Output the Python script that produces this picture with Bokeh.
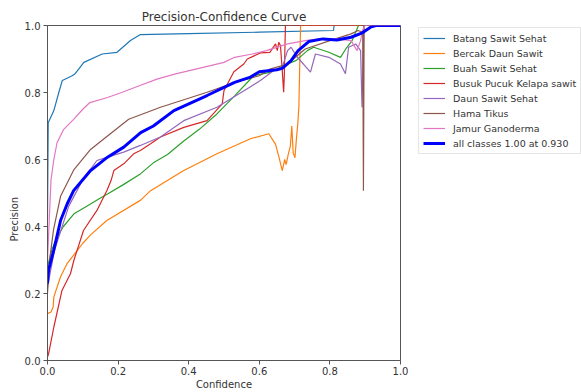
from bokeh.plotting import figure
from bokeh.layouts import row
from bokeh.models import Range1d, FixedTicker, PrintfTickFormatter, Legend, LegendItem, Title
from bokeh.embed import file_html
from bokeh.resources import INLINE

# ---- data ----
class_names = ["Batang Sawit Sehat", "Bercak Daun Sawit", "Buah Sawit Sehat",
               "Busuk Pucuk Kelapa sawit", "Daun Sawit Sehat", "Hama Tikus",
               "Jamur Ganoderma", "all classes 1.00 at 0.930"]

conf_batang = [0, 0.002, 0.018, 0.032, 0.042, 0.07, 0.079, 0.103, 0.155, 0.197, 0.235, 0.263, 0.4, 0.6, 0.81, 0.812, 1.0]
prec_batang = [0.42, 0.71, 0.746, 0.80, 0.836, 0.85, 0.857, 0.89, 0.915, 0.92, 0.955, 0.973, 0.976, 0.98, 0.985, 1.0, 1.0]

conf_bercak = [0, 0.01, 0.016, 0.018, 0.037, 0.056, 0.084, 0.1, 0.122, 0.168, 0.263, 0.292, 0.386, 0.48, 0.575,
               0.627, 0.646, 0.655, 0.665, 0.672, 0.676, 0.682, 0.688, 0.692, 0.696, 0.701, 0.705, 0.709, 0.712, 0.717, 1.0]
prec_bercak = [0.14, 0.145, 0.16, 0.19, 0.25, 0.29, 0.328, 0.35, 0.375, 0.418, 0.478, 0.507, 0.567, 0.617, 0.662,
               0.677, 0.645, 0.61, 0.567, 0.60, 0.585, 0.615, 0.64, 0.70, 0.62, 0.605, 0.66, 0.706, 0.756, 1.0, 1.0]

conf_buah = [0, 0.012, 0.027, 0.045, 0.075, 0.11, 0.15, 0.17, 0.215, 0.263, 0.3, 0.34, 0.386, 0.43, 0.48, 0.53,
             0.584, 0.63, 0.68, 0.705, 0.736, 0.754, 0.797, 0.83, 0.845, 0.863, 0.881, 1.0]
prec_buah = [0.28, 0.33, 0.368, 0.40, 0.438, 0.46, 0.485, 0.497, 0.525, 0.557, 0.59, 0.615, 0.655, 0.69, 0.736, 0.79,
             0.85, 0.86, 0.885, 0.896, 0.925, 0.935, 0.92, 0.905, 0.93, 0.955, 1.0, 1.0]

conf_busuk = [0, 0.003, 0.018, 0.041, 0.065, 0.075, 0.102, 0.14, 0.168, 0.18, 0.188, 0.216, 0.244, 0.263, 0.292,
              0.32, 0.386, 0.452, 0.495, 0.5, 0.528, 0.556, 0.566, 0.603, 0.63, 0.646, 0.651, 0.655, 0.66, 0.665,
              0.669, 0.671, 0.674, 1.0]
prec_busuk = [0.01, 0.02, 0.10, 0.209, 0.259, 0.30, 0.388, 0.448, 0.507, 0.537, 0.567, 0.587, 0.617, 0.627, 0.647,
              0.667, 0.696, 0.716, 0.766, 0.806, 0.862, 0.885, 0.90, 0.918, 0.92, 0.945, 0.925, 0.95, 0.94, 0.866,
              0.801, 0.856, 1.0, 1.0]

conf_daun = [0, 0.02, 0.06, 0.1, 0.14, 0.17, 0.216, 0.263, 0.32, 0.386, 0.48, 0.566, 0.603, 0.64, 0.665, 0.68,
             0.69, 0.707, 0.725, 0.745, 0.759, 0.797, 0.83, 0.844, 0.853, 0.873, 0.887, 0.891, 0.896, 1.0]
prec_daun = [0.22, 0.33, 0.46, 0.54, 0.597, 0.607, 0.622, 0.642, 0.667, 0.716, 0.756, 0.811, 0.836, 0.865, 0.875, 0.925,
             0.935, 0.906, 0.885, 0.861, 0.915, 0.905, 0.885, 0.856, 0.935, 0.945, 0.925, 0.756, 1.0, 1.0]

conf_hama = [0, 0.006, 0.017, 0.037, 0.075, 0.122, 0.17, 0.23, 0.32, 0.45, 0.53, 0.6, 0.63, 0.68, 0.73, 0.8,
             0.86, 0.88, 0.893, 0.895, 0.897, 1.0]
prec_hama = [0.20, 0.30, 0.39, 0.49, 0.57, 0.63, 0.67, 0.72, 0.756, 0.80, 0.83, 0.85, 0.87, 0.885, 0.93, 0.955,
             0.975, 0.985, 0.98, 0.507, 1.0, 1.0]

conf_jamur = [0, 0.005, 0.01, 0.018, 0.027, 0.046, 0.074, 0.1, 0.12, 0.17, 0.21, 0.26, 0.31, 0.36, 0.42, 0.5,
              0.53, 0.58, 0.62, 0.68, 0.73, 0.77, 0.82, 0.86, 0.877, 0.887, 0.892, 0.9, 1.0]
prec_jamur = [0.30, 0.42, 0.54, 0.60, 0.65, 0.69, 0.72, 0.75, 0.77, 0.785, 0.80, 0.82, 0.84, 0.855, 0.87, 0.89,
              0.905, 0.915, 0.925, 0.945, 0.955, 0.96, 0.96, 0.955, 0.925, 0.955, 0.985, 1.0, 1.0]

conf_all = [0, 0.003, 0.018, 0.037, 0.056, 0.074, 0.122, 0.17, 0.216, 0.264, 0.3, 0.358, 0.452, 0.53, 0.575,
            0.6, 0.65, 0.665, 0.69, 0.71, 0.74, 0.78, 0.82, 0.86, 0.89, 0.915, 0.93, 1.0]
prec_all = [0.23, 0.27, 0.33, 0.418, 0.468, 0.507, 0.567, 0.607, 0.637, 0.68, 0.70, 0.746, 0.791, 0.83, 0.846,
            0.862, 0.868, 0.872, 0.895, 0.925, 0.952, 0.96, 0.957, 0.965, 0.977, 0.995, 1.0, 1.0]

x_ticks = [0.0, 0.2, 0.4, 0.6, 0.8, 1.0]
y_ticks = [0.0, 0.2, 0.4, 0.6, 0.8, 1.0]

colors = ["#1f77b4", "#ff7f0e", "#2ca02c", "#d62728", "#9467bd", "#8c564b", "#e377c2", "#0000ff"]

series = [(conf_batang, prec_batang), (conf_bercak, prec_bercak), (conf_buah, prec_buah),
          (conf_busuk, prec_busuk), (conf_daun, prec_daun), (conf_hama, prec_hama),
          (conf_jamur, prec_jamur), (conf_all, prec_all)]

FONT = "DejaVu Sans"
TXT = "#333333"
AX = "#555555"
H = 392

p = figure(width=410, height=H, output_backend="svg", toolbar_location=None,
           x_range=Range1d(0, 1), y_range=Range1d(0, 1),
           min_border_left=47, min_border_right=10, min_border_top=25, min_border_bottom=32,
           title="Precision-Confidence Curve")
p.title.align = "center"
p.title.text_font = FONT
p.title.text_font_size = "12px"
p.title.text_font_style = "normal"
p.title.text_color = TXT
p.title.standoff = 3

p.grid.visible = False
p.outline_line_color = AX
p.outline_line_width = 1
p.outline_line_alpha = 1

for ax in (p.xaxis[0], p.yaxis[0]):
    ax.axis_line_color = AX
    ax.major_tick_line_color = AX
    ax.minor_tick_line_color = None
    ax.major_tick_in = 0
    ax.major_tick_out = 4
    ax.major_label_text_font = FONT
    ax.major_label_text_font_size = "10px"
    ax.major_label_text_color = TXT
    ax.axis_label_text_font = FONT
    ax.axis_label_text_font_size = "10px"
    ax.axis_label_text_font_style = "normal"
    ax.axis_label_text_color = TXT
    ax.formatter = PrintfTickFormatter(format="%.1f")

p.xaxis.ticker = FixedTicker(ticks=x_ticks)
p.yaxis.ticker = FixedTicker(ticks=y_ticks)
p.xaxis.axis_label = "Confidence"
p.xaxis.major_label_standoff = 2
p.xaxis.axis_label_standoff = 1
p.yaxis.major_label_standoff = 3

ylab = Title(text="Precision", align="left", offset=119, standoff=3,
             text_font=FONT, text_font_size="10px", text_font_style="normal", text_color=TXT)
p.add_layout(ylab, "left")

for i, (cx, cy) in enumerate(series):
    w = 3 if i == 7 else 1.2
    p.line(cx, cy, line_color=colors[i], line_width=w)

# ---- legend panel (separate canvas to the right of the axes) ----
# the same series are drawn here outside its visible range, only to give legend samples
lf = figure(width=171, height=H, output_backend="svg", toolbar_location=None,
            x_axis_type=None, y_axis_type=None, min_border=0,
            x_range=Range1d(5, 6), y_range=Range1d(5, 6))
lf.grid.visible = False
lf.outline_line_color = None

items = []
for i, (cx, cy) in enumerate(series):
    w = 3 if i == 7 else 1.2
    r = lf.line(cx, cy, line_color=colors[i], line_width=w)
    items.append(LegendItem(label=class_names[i], renderers=[r]))

legend = Legend(items=items, location=(8, 206))
legend.label_text_font = FONT
legend.label_text_font_size = "9.5px"
legend.label_text_color = TXT
legend.glyph_width = 22
legend.glyph_height = 12
legend.label_height = 12
legend.spacing = 3
legend.padding = 4
legend.margin = 0
legend.label_standoff = 8
legend.border_line_color = "#cccccc"
legend.border_line_width = 1
legend.background_fill_alpha = 1
lf.add_layout(legend, "center")

layout = row(p, lf)
open("out.html", "w").write(file_html(layout, INLINE))
